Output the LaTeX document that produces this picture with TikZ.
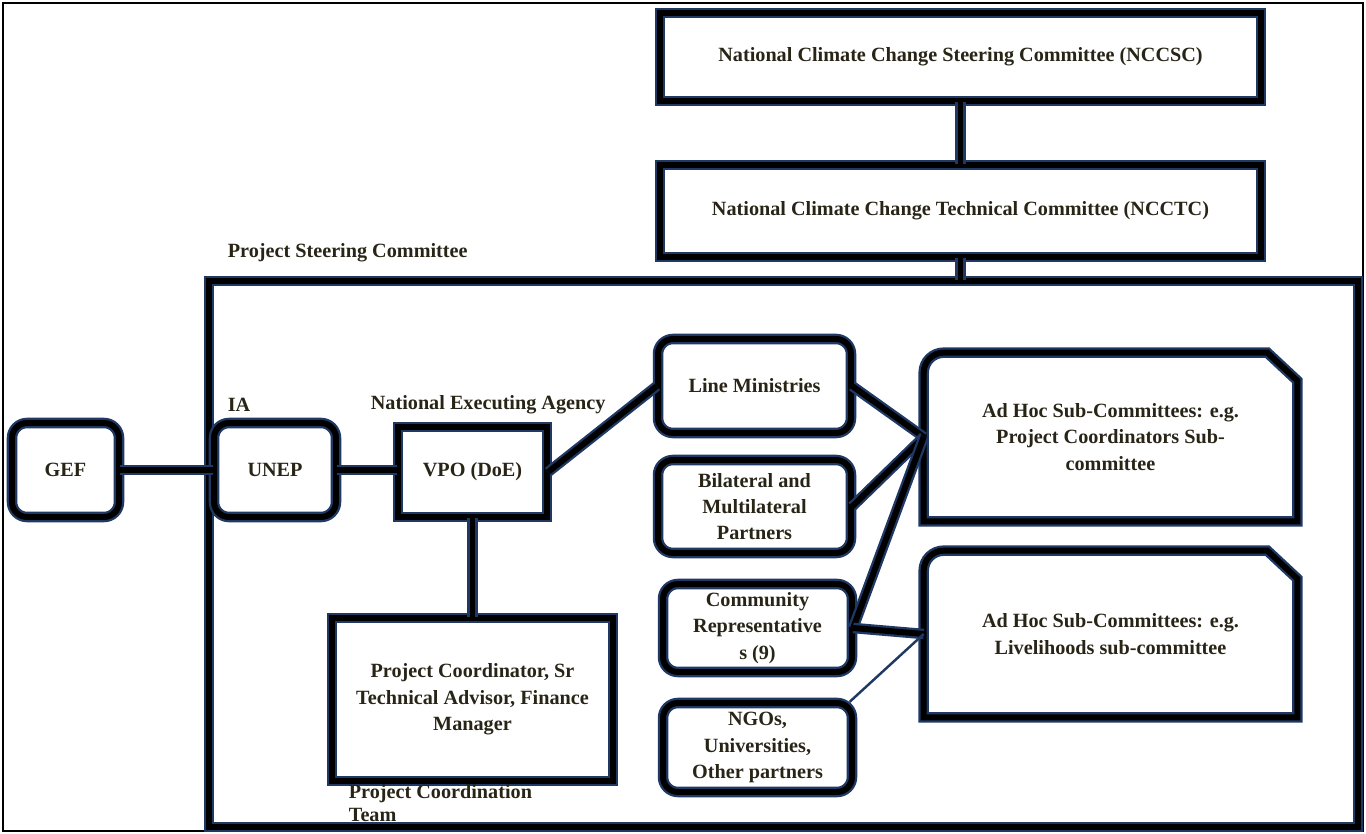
\documentclass[tikz,border=0pt]{standalone}
\usepackage{fontspec}
\setmainfont{Liberation Serif}
\usetikzlibrary{positioning,calc}
\definecolor{linknavy}{RGB}{31,56,100}
\definecolor{inkdark}{RGB}{40,36,22}

\begin{document}
\begin{tikzpicture}[x=0.02cm, y=-0.02cm,
    font=\fontsize{11.5}{15}\selectfont\bfseries,
    every node/.style={text=inkdark, inner sep=2pt},
    heavy/.style={draw=linknavy, line width=1.3pt, double=black, double distance=3.4pt},
    orgbox/.style={heavy, align=center},
    roundbox/.style={orgbox, rounded corners=0.3cm},
    plainbox/.style={align=center},
    tag/.style={anchor=west}]
    \useasboundingbox (0,0) rectangle (1366,834);
    \draw[black, line width=0.8pt] (3,3) rectangle (1363,831);

    % ── National committees ───────────────────────────────────────────
    \node[orgbox, minimum width=12.02cm, minimum height=1.76cm] (nccsc) at (960.5,57)
      {National Climate Change Steering Committee (NCCSC)};
    \node[orgbox, minimum width=12.02cm, minimum height=1.84cm] (ncctc) at (960.5,211)
      {National Climate Change Technical Committee (NCCTC)};

    % Project steering committee frame
    \node[heavy, minimum width=22.98cm, minimum height=10.92cm] (psc) at (783.5,554) {};
    \node[tag] (psclab) at (224,253) {Project Steering Committee};

    % ── Implementing chain ────────────────────────────────────────────
    \node[roundbox, minimum width=2.14cm, minimum height=1.88cm] (gef) at (65.5,470) {GEF};
    \node[roundbox, minimum width=2.44cm, minimum height=1.88cm] (unep) at (275,470) {UNEP};
    \node[tag] (ialab) at (224,405) {IA};
    \node[orgbox, minimum width=2.98cm, minimum height=1.80cm] (vpo) at (472.5,472) {VPO (DoE)};
    \node[tag] (nealab) at (367,405) {National Executing Agency};
    \node[orgbox, minimum width=5.62cm, minimum height=3.26cm] (pc) at (472.5,699.5)
      {Project Coordinator, Sr\\Technical Advisor, Finance\\Manager};
    \node[anchor=north west, align=left, font=\fontsize{11.5}{13}\selectfont\bfseries]
      (pclab) at (345,781) {Project Coordination\\Team};

    % ── Partners ──────────────────────────────────────────────────────
    \node[roundbox, minimum width=3.86cm, minimum height=1.88cm] (linemin) at (754.5,386)
      {Line Ministries};
    \node[roundbox, minimum width=3.86cm, minimum height=1.86cm] (bilat) at (754.5,506.5)
      {Bilateral and\\Multilateral\\Partners};
    \node[roundbox, minimum width=3.78cm, minimum height=1.76cm] (commrep) at (757.5,628)
      {Community\\Representative\\s (9)};
    \node[roundbox, minimum width=3.78cm, minimum height=1.78cm] (ngos) at (757.5,747.5)
      {NGOs,\\Universities,\\Other partners};

    % Ad hoc sub-committees (round top left, cut top right)
    \node[plainbox, minimum width=7.46cm, minimum height=3.36cm] (adhoca) at (1110.5,437)
      {Ad Hoc Sub-Committees: e.g.\\Project Coordinators Sub-\\committee};
    \node[plainbox, minimum width=7.46cm, minimum height=3.32cm] (adhocb) at (1110.5,634)
      {Ad Hoc Sub-Committees: e.g.\\Livelihoods sub-committee};
    \foreach \b in {adhoca,adhocb}{
      \draw[heavy] (\b.south west) -- ([yshift=-0.4cm]\b.north west)
        arc[start angle=180, end angle=90, radius=0.4cm]
        -- ([xshift=-0.6cm]\b.north east) -- ([yshift=-0.56cm]\b.north east)
        -- (\b.south east) -- cycle;
    }

    % ── Links ─────────────────────────────────────────────────────────
    \draw[heavy] (nccsc) -- (ncctc);
    \draw[heavy] (ncctc.south) -- (ncctc.south |- psc.north);
    \draw[heavy] (gef) -- (unep);
    \draw[heavy] (unep.east) -- (unep.east -| vpo.west);
    \draw[heavy] (vpo) -- (pc);
    \draw[heavy] (vpo.east) -- (linemin.west);
    \foreach \p in {linemin,bilat,commrep}
      \draw[heavy] (\p.east) -- (adhoca.west);
    \draw[heavy] (commrep.east) -- (adhocb.west);
    \draw[linknavy, line width=1.4pt] ([xshift=-2pt]ngos.north east) -- (adhocb.west);
\end{tikzpicture}
\end{document}
